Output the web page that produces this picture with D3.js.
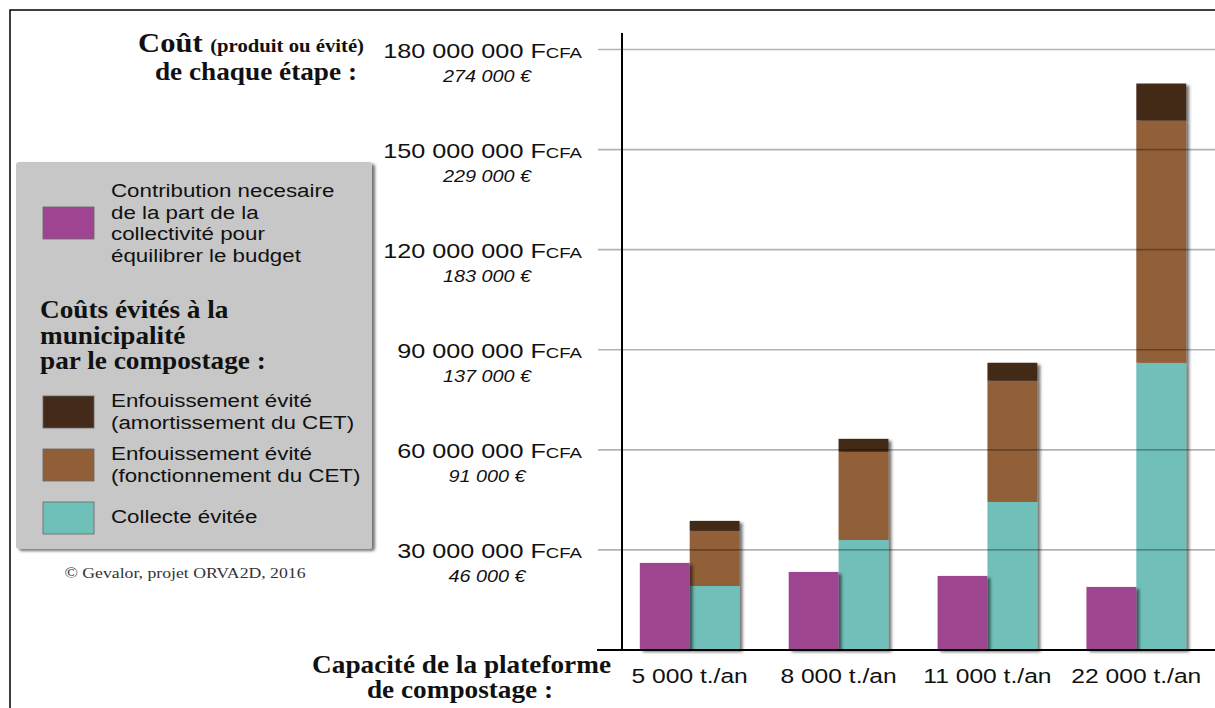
<!DOCTYPE html>
<html>
<head>
<meta charset="utf-8">
<script src="https://cdn.jsdelivr.net/npm/d3@7"></script>
<style>
  body { margin: 0; background: #fff; }
  svg { display: block; }
</style>
</head>
<body>
<div id="chart"></div>
<script>
var categories = ["5 000 t./an", "8 000 t./an", "11 000 t./an", "22 000 t./an"];
var contribution = [26.1e6, 23.4e6, 22.2e6, 18.9e6];
var collecte = [19.2e6, 33.0e6, 44.4e6, 86.1e6];
var fonctionnement = [16.5e6, 26.4e6, 36.3e6, 72.6e6];
var amortissement = [3.0e6, 3.9e6, 5.4e6, 11.1e6];
var yTicks = [30e6, 60e6, 90e6, 120e6, 150e6, 180e6];
var euroLabels = ["46 000 €", "91 000 €", "137 000 €", "183 000 €", "229 000 €", "274 000 €"];

var colors = {
    contribution: "#9e4490",
    collecte: "#6fc0b9",
    fonctionnement: "#915e37",
    amortissement: "#432a19"
};

var sans = "'Liberation Sans', Arial, sans-serif";
var serif = "'Liberation Serif', 'DejaVu Serif', serif";

var width = 1215, height = 708;

var svg = d3.select("#chart").append("svg")
    .attr("width", width)
    .attr("height", height);

var defs = svg.append("defs");
defs.append("filter")
    .attr("id", "shadow")
    .attr("x", "-20%").attr("y", "-20%")
    .attr("width", "150%").attr("height", "150%")
    .append("feDropShadow")
    .attr("dx", 3).attr("dy", 2)
    .attr("stdDeviation", 1.6)
    .attr("flood-color", "#000")
    .attr("flood-opacity", 0.55);

// frame
svg.append("path")
    .attr("d", "M10," + height + "V10H" + width)
    .attr("fill", "none")
    .attr("stroke", "#000")
    .attr("stroke-width", 1.5);

var x0 = d3.scaleBand()
    .domain(categories)
    .range([616, 1210])
    .paddingInner(0.33)
    .paddingOuter(0.16);

var x1 = d3.scaleBand()
    .domain(["contribution", "evite"])
    .range([0, x0.bandwidth()]);

var y = d3.scaleLinear()
    .domain([0, 180e6])
    .range([650, 49.5]);

// stacked avoided costs
var rows = categories.map(function(c, i) {
    return {cat: c, collecte: collecte[i], fonctionnement: fonctionnement[i], amortissement: amortissement[i]};
});
var stack = d3.stack().keys(["collecte", "fonctionnement", "amortissement"])(rows);

var stackGroups = svg.append("g").selectAll("g")
    .data(categories)
    .join("g")
    .attr("filter", "url(#shadow)");

stack.forEach(function(layer) {
    stackGroups.append("rect")
        .attr("x", function(c) { return x0(c) + x1("evite"); })
        .attr("width", x1.bandwidth())
        .attr("y", function(c, i) { return y(layer[i][1]); })
        .attr("height", function(c, i) { return y(layer[i][0]) - y(layer[i][1]); })
        .attr("fill", colors[layer.key]);
});

svg.append("g").selectAll("rect")
    .data(categories)
    .join("rect")
    .attr("x", function(c) { return x0(c) + x1("contribution"); })
    .attr("width", x1.bandwidth())
    .attr("y", function(c, i) { return y(contribution[i]); })
    .attr("height", function(c, i) { return y(0) - y(contribution[i]); })
    .attr("fill", colors.contribution)
    .attr("filter", "url(#shadow)");

// gridlines over the bars
svg.append("g").selectAll("line")
    .data(yTicks)
    .join("line")
    .attr("x1", 598).attr("x2", width)
    .attr("y1", function(d) { return y(d); })
    .attr("y2", function(d) { return y(d); })
    .attr("stroke", "#000")
    .attr("stroke-opacity", 0.3)
    .attr("stroke-width", 1.6);

// axes lines
svg.append("line")
    .attr("x1", 622).attr("x2", 622)
    .attr("y1", 33).attr("y2", y(0))
    .attr("stroke", "#000").attr("stroke-width", 2);
svg.append("line")
    .attr("x1", 597).attr("x2", width)
    .attr("y1", y(0)).attr("y2", y(0))
    .attr("stroke", "#000").attr("stroke-width", 2);

// y labels
var fmt = function(v) { return d3.format(",")(v).replace(/,/g, " "); };
var yLab = svg.append("g").selectAll("g")
    .data(yTicks)
    .join("g");
var main = yLab.append("text")
    .attr("class", "wide")
    .attr("x", 582)
    .attr("y", function(d) { return y(d) + 8; })
    .attr("text-anchor", "end")
    .style("font-family", sans)
    .style("font-size", "21px")
    .style("fill", "#111");
main.append("tspan").text(function(d) { return fmt(d) + " F"; });
main.append("tspan").style("font-size", "15.5px").text("CFA");
yLab.append("text")
    .attr("class", "wide")
    .attr("x", 487)
    .attr("y", function(d) { return y(d) + 32; })
    .attr("text-anchor", "middle")
    .style("font-family", sans)
    .style("font-style", "italic")
    .style("font-size", "16.5px")
    .style("fill", "#111")
    .text(function(d, i) { return euroLabels[i]; });

// category labels
svg.append("g").selectAll("text")
    .data(categories)
    .join("text")
    .attr("class", "wide")
    .attr("x", function(c) { return x0(c) + x0.bandwidth() / 2; })
    .attr("y", 683)
    .attr("text-anchor", "middle")
    .style("font-family", sans)
    .style("font-size", "20.5px")
    .style("fill", "#111")
    .text(function(c) { return c; });

// titles
var t1 = svg.append("text")
    .attr("class", "serif")
    .attr("x", 364).attr("y", 52)
    .attr("text-anchor", "end")
    .style("font-family", serif)
    .style("font-weight", "bold")
    .style("fill", "#111");
t1.append("tspan").style("font-size", "28px").text("Coût ");
t1.append("tspan").style("font-size", "19px").text("(produit ou évité)");
svg.append("text")
    .attr("class", "serif")
    .attr("x", 357).attr("y", 80)
    .attr("text-anchor", "end")
    .style("font-family", serif)
    .style("font-weight", "bold")
    .style("font-size", "25px")
    .style("fill", "#111")
    .text("de chaque étape :");

svg.append("text")
    .attr("class", "serif")
    .attr("x", 611).attr("y", 673)
    .attr("text-anchor", "end")
    .style("font-family", serif)
    .style("font-weight", "bold")
    .style("font-size", "25px")
    .style("fill", "#111")
    .text("Capacité de la plateforme");
svg.append("text")
    .attr("class", "serif")
    .attr("x", 460).attr("y", 698)
    .attr("text-anchor", "middle")
    .style("font-family", serif)
    .style("font-weight", "bold")
    .style("font-size", "25px")
    .style("fill", "#111")
    .text("de compostage :");

// legend
var legend = svg.append("g");
legend.append("rect")
    .attr("x", 16).attr("y", 162)
    .attr("width", 356).attr("height", 387)
    .attr("rx", 3)
    .attr("fill", "#c7c7c7")
    .attr("filter", "url(#shadow)");

var legendItems = [
    {key: "contribution", y: 207, lines: ["Contribution necesaire", "de la part de la", "collectivité pour", "équilibrer le budget"], ty: 197},
    {key: "amortissement", y: 396, lines: ["Enfouissement évité", "(amortissement du CET)"], ty: 407},
    {key: "fonctionnement", y: 449, lines: ["Enfouissement évité", "(fonctionnement du CET)"], ty: 460},
    {key: "collecte", y: 502, lines: ["Collecte évitée"], ty: 523}
];

legendItems.forEach(function(d) {
    legend.append("rect")
        .attr("x", 43).attr("y", d.y)
        .attr("width", 51).attr("height", 32)
        .attr("fill", colors[d.key])
        .attr("stroke", "#666")
        .attr("stroke-width", 0.8);
    var t = legend.append("text")
        .attr("class", "legend")
        .attr("x", 111).attr("y", d.ty)
        .style("font-family", sans)
        .style("font-size", "18px")
        .style("fill", "#111");
    d.lines.forEach(function(l, i) {
        t.append("tspan").attr("x", 111).attr("dy", i ? 21.5 : 0).text(l);
    });
});

var head = legend.append("text")
    .attr("class", "serif")
    .attr("x", 40).attr("y", 318)
    .style("font-family", serif)
    .style("font-weight", "bold")
    .style("font-size", "25px")
    .style("fill", "#111");
["Coûts évités à la", "municipalité", "par le compostage :"].forEach(function(l, i) {
    head.append("tspan").attr("x", 40).attr("dy", i ? 25.5 : 0).text(l);
});

svg.append("text")
    .attr("class", "note")
    .attr("x", 185).attr("y", 578)
    .attr("text-anchor", "middle")
    .style("font-family", serif)
    .style("font-size", "15px")
    .style("fill", "#333")
    .text("© Gevalor, projet ORVA2D, 2016");

// the source picture is stretched sideways: widen the texts the same way
function widen(sel, factor) {
    sel.each(function() {
        var lines = d3.select(this).selectAll("tspan").filter(function() { return this.hasAttribute("x"); });
        var parts = lines.size() ? lines.nodes() : [this];
        parts.forEach(function(node) {
            var len = node.getComputedTextLength();
            d3.select(node).attr("textLength", len * factor).attr("lengthAdjust", "spacingAndGlyphs");
        });
    });
}
widen(svg.selectAll("text.wide"), 1.2);
widen(svg.selectAll("text.legend"), 1.24);
widen(svg.selectAll("text.serif"), 1.09);
widen(svg.selectAll("text.note"), 1.18);
</script>
</body>
</html>
